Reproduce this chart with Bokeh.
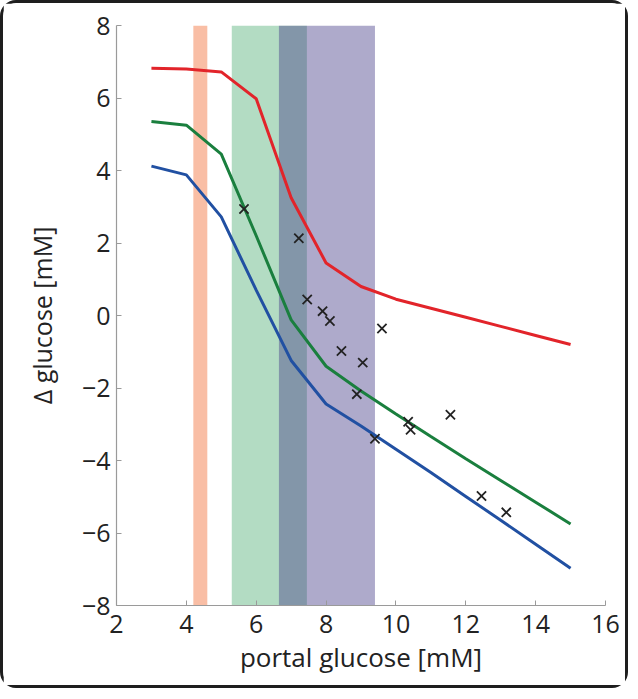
from bokeh.plotting import figure
from bokeh.embed import file_html
from bokeh.resources import INLINE
from bokeh.models import Range1d, FixedTicker

# ---- data ----
x_model = [3, 4, 5, 6, 7, 8, 9, 10, 11, 12, 13, 14, 15]
red_vals = [6.82, 6.80, 6.72, 5.98, 3.25, 1.45, 0.80, 0.45, 0.20, -0.05, -0.30, -0.55, -0.80]
green_vals = [5.35, 5.25, 4.45, 2.20, -0.12, -1.40, -2.08, -2.72, -3.34, -3.95, -4.55, -5.15, -5.75]
blue_vals = [4.12, 3.88, 2.72, 0.70, -1.24, -2.44, -3.05, -3.69, -4.33, -4.99, -5.65, -6.31, -6.97]

obs_x = [5.65, 7.22, 7.46, 7.90, 8.11, 9.60, 8.44, 9.05, 8.88, 10.35, 10.42, 9.40, 11.56, 12.45, 13.16]
obs_y = [2.94, 2.13, 0.44, 0.12, -0.15, -0.36, -0.98, -1.30, -2.17, -2.93, -3.15, -3.40, -2.74, -4.98, -5.43]

band_left = [4.2, 5.3, 6.65]
band_right = [4.6, 7.45, 9.4]
band_colors = ["#f9bea5", "#b3dcc3", "#443987"]
band_alpha = [1.0, 1.0, 0.43]

x_ticks = [2, 4, 6, 8, 10, 12, 14, 16]
y_ticks = [-8, -6, -4, -2, 0, 2, 4, 6, 8]

FONT = "Open Sans"

p = figure(width=628, height=688, output_backend="svg", toolbar_location=None,
           x_range=Range1d(2, 16), y_range=Range1d(-8, 8),
           min_border_left=113, min_border_right=26, min_border_top=22, min_border_bottom=86)
p.styles = {"border": "3px solid #1e1e1e", "border-radius": "16px", "box-sizing": "border-box"}

p.quad(left=band_left, right=band_right, bottom=-8, top=8,
       fill_color=band_colors, fill_alpha=band_alpha, line_color=None)

p.line(x_model, red_vals, line_color="#e2242a", line_width=3)
p.line(x_model, green_vals, line_color="#1a7f3e", line_width=3)
p.line(x_model, blue_vals, line_color="#2150a2", line_width=3)

p.scatter(obs_x, obs_y, marker="x", size=13, line_color="#222222", line_width=1.8)

p.grid.visible = False
p.outline_line_color = None

for ax in (p.xaxis[0], p.yaxis[0]):
    ax.axis_line_color = "#9a9a9a"
    ax.axis_line_width = 1.2
    ax.major_tick_line_color = "#9a9a9a"
    ax.major_tick_in = 5
    ax.major_tick_out = 0
    ax.minor_tick_line_color = None
    ax.major_label_text_font = FONT
    ax.major_label_text_font_size = "25px"
    ax.major_label_text_color = "#222222"
    ax.axis_label_text_font = FONT
    ax.axis_label_text_font_style = "normal"
    ax.axis_label_text_color = "#222222"

p.xaxis[0].axis_label_text_font_size = "26px"
p.yaxis[0].axis_label_text_font_size = "25px"
p.xaxis[0].ticker = FixedTicker(ticks=x_ticks)
p.yaxis[0].ticker = FixedTicker(ticks=y_ticks)
p.yaxis[0].major_label_overrides = {t: (("\u2212" + str(-t)) if t < 0 else str(t)) for t in y_ticks}
p.xaxis[0].major_label_standoff = 9
p.yaxis[0].major_label_standoff = 6
p.xaxis[0].axis_label = "portal glucose [mM]"
p.yaxis[0].axis_label = "\u0394 glucose [mM]"
p.xaxis[0].axis_label_standoff = 3
p.yaxis[0].axis_label_standoff = 20

open("out.html", "w").write(file_html(p, INLINE))
